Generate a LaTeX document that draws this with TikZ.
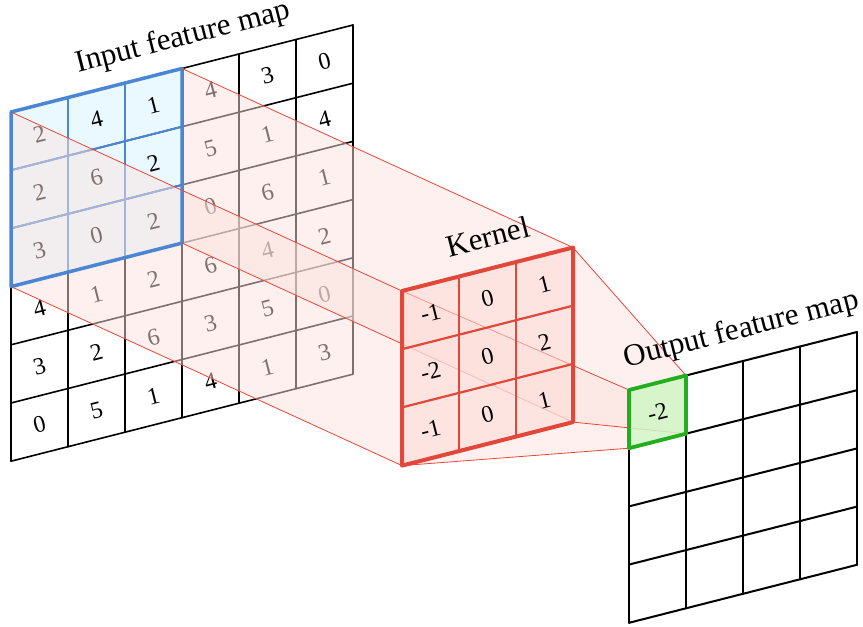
\documentclass[tikz,border=0pt]{standalone}
\usepackage{fontspec}
\setmainfont{Liberation Serif}
\definecolor{winblue}{HTML}{4A86D4}
\definecolor{wincyan}{HTML}{EAF9FF}
\definecolor{kernred}{HTML}{E2483A}
\definecolor{kernfill}{HTML}{FFDAD6}
\definecolor{facepink}{HTML}{FBE2DE}
\definecolor{raycol}{HTML}{EE4536}
\definecolor{outgreen}{HTML}{22AE1E}
\definecolor{outfill}{HTML}{D2F5C5}
\begin{document}
\begin{tikzpicture}[x=1pt,y=-1pt,
  plane/.style={x={(57pt,14.5pt)},y={(0pt,-58.2pt)}},
  num/.style={font=\fontsize{24}{28}\selectfont, rotate=14.3, inner sep=0pt},
  lbl/.style={font=\fontsize{31}{35}\selectfont, rotate=14.3, inner sep=0pt, anchor=base},
  gridline/.style={draw=black, line width=1.6pt, line cap=round},
  outline/.style={draw=black, line width=2pt, line cap=round},
  wininner/.style={draw=winblue, line width=2pt},
  face/.style={fill=facepink, fill opacity=0.5},
  ray/.style={draw=raycol, line width=0.8pt}]
\useasboundingbox (0,0) rectangle (863,627);

% corner points of the three planes
\begin{scope}[shift={(11,112)}, plane]
  \coordinate (iTL) at (0,0); \coordinate (iTR) at (3,0);
  \coordinate (iBL) at (0,3); \coordinate (iBR) at (3,3);
\end{scope}
\begin{scope}[shift={(402,291)}, plane]
  \coordinate (kTL) at (0,0); \coordinate (kTR) at (3,0);
  \coordinate (kBL) at (0,3); \coordinate (kBR) at (3,3);
\end{scope}
\begin{scope}[shift={(629,390)}, plane]
  \coordinate (oTL) at (0,0); \coordinate (oTR) at (1,0);
  \coordinate (oBL) at (0,1); \coordinate (oBR) at (1,1);
\end{scope}

% input feature map
\begin{scope}[shift={(11,112)}, plane]
  \fill[wincyan] (0,0) -- (3,0) -- (3,3) -- (0,3) -- cycle;
  \foreach \k in {0,...,6} {
    \draw[gridline] (\k,0) -- (\k,6);
    \draw[gridline] (0,\k) -- (6,\k);
  }
  \foreach \row [count=\j from 0] in {{2,4,1,4,3,0},{2,6,2,5,1,4},{3,0,2,0,6,1},{4,1,2,6,4,2},{3,2,6,3,5,0},{0,5,1,4,1,3}} {
    \foreach \v [count=\i from 0] in \row {
      \node[num] (in-\i-\j) at (\i+0.5,\j+0.5) {\v};
    }
  }
  \foreach \k in {1,2} {
    \draw[wininner] (\k,0) -- (\k,3);
    \draw[wininner] (0,\k) -- (3,\k);
  }
\end{scope}

% projection from the input window to the kernel
\fill[face] (iTL) -- (iBL) -- (kBL) -- (kTL) -- cycle;
\fill[face] (iTR) -- (iBR) -- (kBR) -- (kTR) -- cycle;
\draw[winblue, line width=3.5pt, line join=round] (iTL) -- (iTR) -- (iBR) -- (iBL) -- cycle;
\draw[ray] (iTL) -- (kTL);
\draw[ray] (iTR) -- (kTR);
\draw[ray] (iBL) -- (kBL);
\draw[ray] (iBR) -- (kBR);

% projection from the kernel to the output cell
\fill[face] (kTL) -- (kBL) -- (oBL) -- (oTL) -- cycle;
\fill[face] (kTR) -- (kBR) -- (oBR) -- (oTR) -- cycle;
\draw[ray] (kTL) -- (oTL);
\draw[ray] (kTR) -- (oTR);
\draw[ray] (kBL) -- (oBL);
\draw[ray] (kBR) -- (oBR);

% kernel
\fill[kernfill, fill opacity=0.55] (kTL) -- (kTR) -- (kBR) -- (kBL) -- cycle;
\begin{scope}[shift={(402,291)}, plane]
  \foreach \k in {1,2} {
    \draw[kernred, line width=2.2pt] (\k,0) -- (\k,3);
    \draw[kernred, line width=2.2pt] (0,\k) -- (3,\k);
  }
  \foreach \row [count=\j from 0] in {{-1,0,1},{-2,0,2},{-1,0,1}} {
    \foreach \v [count=\i from 0] in \row {
      \node[num] (k-\i-\j) at (\i+0.5,\j+0.5) {\v};
    }
  }
\end{scope}
\draw[kernred, line width=4pt, line join=round] (kTL) -- (kTR) -- (kBR) -- (kBL) -- cycle;

% output feature map
\begin{scope}[shift={(629,390)}, plane]
  \foreach \k in {0,...,4} {
    \draw[outline] (\k,0) -- (\k,4);
    \draw[outline] (0,\k) -- (4,\k);
  }
\end{scope}
\fill[outfill, fill opacity=0.85] (oTL) -- (oTR) -- (oBR) -- (oBL) -- cycle;
\draw[outgreen, line width=3.8pt, line join=round] (oTL) -- (oTR) -- (oBR) -- (oBL) -- cycle;
\begin{scope}[shift={(629,390)}, plane]
  \node[num] (out-0-0) at (0.5,0.5) {-2};
\end{scope}

% labels
\node[lbl] (inlabel) at (185,45.3) {Input feature map};
\node[lbl] (kernlabel) at (490.5,246.7) {Kernel};
\node[lbl] (outlabel) at (743.5,337.6) {Output feature map};
\end{tikzpicture}
\end{document}
